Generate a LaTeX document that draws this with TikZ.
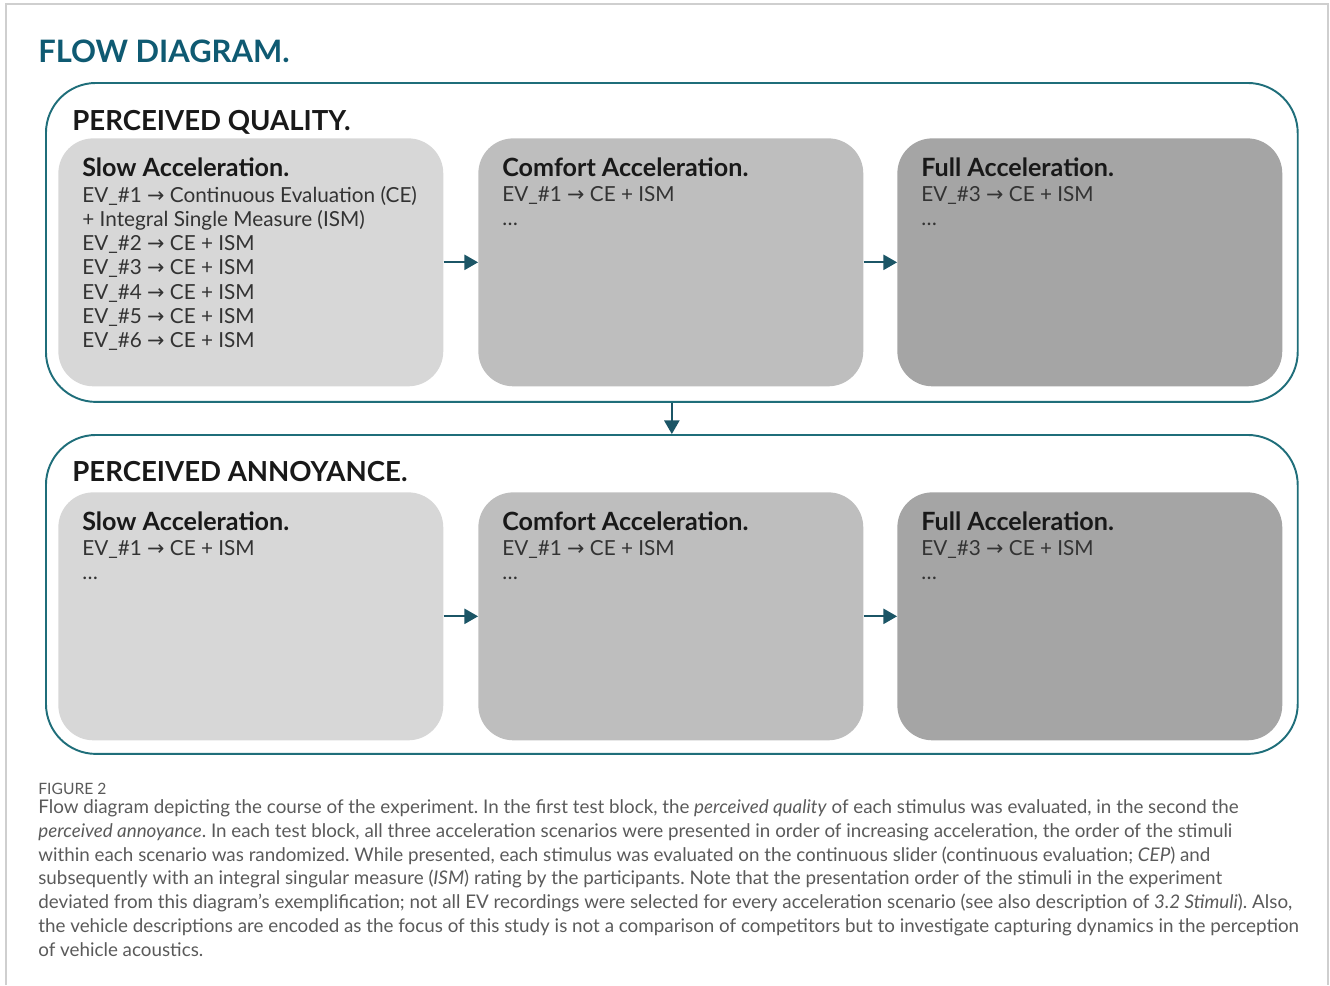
\documentclass[tikz,border=0pt]{standalone}
\usepackage{fontspec}
\setmainfont{Lato}
\newfontfamily\arrowfont{DejaVu Sans}
\usetikzlibrary{arrows,positioning}

\definecolor{titleteal}{HTML}{0F5A72}
\definecolor{frameteal}{HTML}{1F6E7A}
\definecolor{arrowteal}{HTML}{1B5566}
\definecolor{stageA}{HTML}{D7D7D7}
\definecolor{stageB}{HTML}{BEBEBE}
\definecolor{stageC}{HTML}{A5A5A5}
\definecolor{capgray}{HTML}{5A5A5A}
\definecolor{edgegray}{HTML}{CFCFCF}

\newcommand{\evto}{{\arrowfont\char"2192}}
\frenchspacing

\tikzset{
  block/.style={draw=frameteal, line width=1.1pt, rounded corners=1cm, anchor=north west,
    minimum width=25.04cm, minimum height=6.38cm, inner sep=0pt},
  stage/.style={rounded corners=0.7cm, anchor=north west, inner sep=0pt,
    minimum width=7.7cm, minimum height=4.96cm},
  flow/.style={draw=arrowteal, line width=1.1pt, -triangle 60},
  blockhead/.style={anchor=base west, inner sep=0pt, text=black!90,
    font=\bfseries\fontsize{15.7}{18}\selectfont},
  stagehead/.style={anchor=base west, inner sep=0pt, text=black!90,
    font=\bfseries\fontsize{14.3}{16}\selectfont},
  stagetext/.style={anchor=north west, inner sep=0pt, align=left, text=black!80,
    font=\fontsize{11.8}{13.75}\selectfont}
}

\begin{document}
\begin{tikzpicture}[x=0.02cm, y=-0.02cm]
\useasboundingbox (0,0) rectangle (1330,985);
\draw[edgegray, line width=0.6pt] (6,985) -- (6,4) -- (1328,4) -- (1328,985);

\node[anchor=base west, inner sep=0pt, text=titleteal, font=\bfseries\fontsize{17.6}{20}\selectfont] (title) at (38,62) {FLOW DIAGRAM.};

% first test block
\node[block] (pq) at (45,82) {};
\node[blockhead] (pqh) at (72,130) {PERCEIVED QUALITY.};
\node[stage, fill=stageA] (q1) at (58,138) {};
\node[stage, fill=stageB] (q2) at (478,138) {};
\node[stage, fill=stageC] (q3) at (897,138) {};
\node[stagehead] (q1h) at (82,176) {Slow Acceleration.};
\node[stagehead] (q2h) at (502,176) {Comfort Acceleration.};
\node[stagehead] (q3h) at (921,176) {Full Acceleration.};
\node[stagetext] (q1t) at (82,186) {EV\_\#1 \evto{} Continuous Evaluation (CE)\\+ Integral Single Measure (ISM)\\EV\_\#2 \evto{} CE + ISM\\EV\_\#3 \evto{} CE + ISM\\EV\_\#4 \evto{} CE + ISM\\EV\_\#5 \evto{} CE + ISM\\EV\_\#6 \evto{} CE + ISM};
\node[stagetext] (q2t) at (502,186) {EV\_\#1 \evto{} CE + ISM\\\ldots};
\node[stagetext] (q3t) at (921,186) {EV\_\#3 \evto{} CE + ISM\\\ldots};
\draw[flow] (q1) -- (q2);
\draw[flow] (q2) -- (q3);

% second test block
\node[block] (pa) at (45,434) {};
\node[blockhead] (pah) at (72,481) {PERCEIVED ANNOYANCE.};
\node[stage, fill=stageA] (a1) at (58,492) {};
\node[stage, fill=stageB] (a2) at (478,492) {};
\node[stage, fill=stageC] (a3) at (897,492) {};
\node[stagehead] (a1h) at (82,530) {Slow Acceleration.};
\node[stagehead] (a2h) at (502,530) {Comfort Acceleration.};
\node[stagehead] (a3h) at (921,530) {Full Acceleration.};
\node[stagetext] (a1t) at (82,540) {EV\_\#1 \evto{} CE + ISM\\\ldots};
\node[stagetext] (a2t) at (502,540) {EV\_\#1 \evto{} CE + ISM\\\ldots};
\node[stagetext] (a3t) at (921,540) {EV\_\#3 \evto{} CE + ISM\\\ldots};
\draw[flow] (a1) -- (a2);
\draw[flow] (a2) -- (a3);

\draw[flow] (pq) -- (pa);

% caption
\node[anchor=base west, inner sep=0pt, text=capgray, font=\fontsize{8.9}{10}\selectfont] (fig) at (38,794) {FIGURE 2};
\node[anchor=north west, inner sep=0pt, align=left, text=capgray, font=\fontsize{10.7}{13.6}\selectfont] (cap) at (38,799) {Flow diagram depicting the course of the experiment. In the first test block, the \textit{perceived quality} of each stimulus was evaluated, in the second the\\
\textit{perceived annoyance}. In each test block, all three acceleration scenarios were presented in order of increasing acceleration, the order of the stimuli\\
within each scenario was randomized. While presented, each stimulus was evaluated on the continuous slider (continuous evaluation; \textit{CEP}) and\\
subsequently with an integral singular measure (\textit{ISM}) rating by the participants. Note that the presentation order of the stimuli in the experiment\\
deviated from this diagram’s exemplification; not all EV recordings were selected for every acceleration scenario (see also description of \textit{3.2 Stimuli}). Also,\\
the vehicle descriptions are encoded as the focus of this study is not a comparison of competitors but to investigate capturing dynamics in the perception\\
of vehicle acoustics.};
\end{tikzpicture}
\end{document}
